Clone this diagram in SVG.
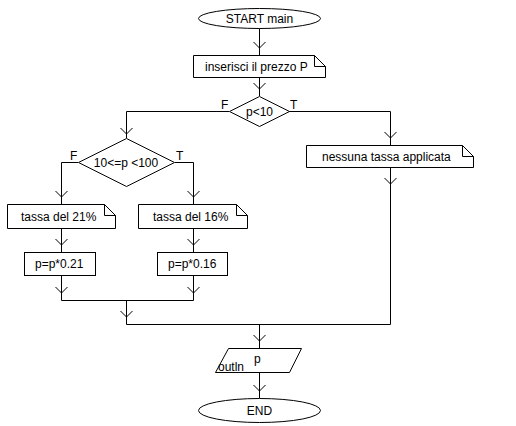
<svg xmlns="http://www.w3.org/2000/svg" width="516" height="426" viewBox="0 0 516 426">
<style>
.s{fill:#fff;stroke:#000;stroke-width:1}
.l{fill:none;stroke:#000;stroke-width:1}
text{font-family:"Liberation Sans",Arial,sans-serif;font-size:12px;fill:#000}
.c{text-anchor:middle}
</style>
<defs>
<path id="ah" d="M-6,-6 L0,0 L6,-6" fill="none" stroke="#000" stroke-width="1"/>
</defs>
<rect width="516" height="426" fill="#fff"/>
<g id="connectors">
<path class="l" d="M259.5,28 V55"/>
<path class="l" d="M259.5,77 V96"/>
<path class="l" d="M229,111.5 H126.5 V138"/>
<path class="l" d="M289,111.5 H390.5 V145"/>
<path class="l" d="M390.5,168 V324.5 H126.5"/>
<path class="l" d="M78,162.5 H61.5 V204"/>
<path class="l" d="M175,162.5 H193.5 V204"/>
<path class="l" d="M61.5,228 V252"/>
<path class="l" d="M193.5,228 V252"/>
<path class="l" d="M61.5,276 V300.5 H193.5 V276"/>
<path class="l" d="M126.5,300.5 V324.5"/>
<path class="l" d="M259.5,324.5 V348"/>
<path class="l" d="M259.5,372 V398"/>
<use href="#ah" x="259.5" y="48"/>
<use href="#ah" x="259.5" y="89"/>
<use href="#ah" x="126.5" y="134"/>
<use href="#ah" x="390.5" y="138"/>
<use href="#ah" x="390.5" y="184"/>
<use href="#ah" x="61.5" y="197"/>
<use href="#ah" x="193.5" y="197"/>
<use href="#ah" x="61.5" y="245"/>
<use href="#ah" x="193.5" y="245"/>
<use href="#ah" x="61.5" y="293"/>
<use href="#ah" x="193.5" y="293"/>
<use href="#ah" x="126.5" y="317"/>
<use href="#ah" x="259.5" y="341"/>
<use href="#ah" x="259.5" y="391"/>
</g>
<g id="start">
<ellipse class="s" cx="259.5" cy="18.5" rx="61" ry="10"/>
<text class="c" x="259.5" y="23">START main</text>
</g>
<g id="input">
<path class="s" d="M193.5,55.5 H314.5 L325.5,66.5 V77.5 H193.5 Z"/>
<path class="l" d="M314.5,55.5 V66.5 H325.5"/>
<text x="205" y="71">inserisci il prezzo P</text>
</g>
<g id="dec1">
<path class="s" d="M259.5,96.5 L289.5,111.5 L259.5,126.5 L229.5,111.5 Z"/>
<text class="c" x="259.5" y="116">p&lt;10</text>
<text x="221" y="109">F</text>
<text x="290" y="109">T</text>
</g>
<g id="nessuna">
<path class="s" d="M306.5,145.5 H462.5 L473.5,156.5 V167.5 H306.5 Z"/>
<path class="l" d="M462.5,145.5 V156.5 H473.5"/>
<text x="322" y="161">nessuna tassa applicata</text>
</g>
<g id="dec2">
<path class="s" d="M126.5,138.5 L174.5,162.5 L126.5,186.5 L78.5,162.5 Z"/>
<text class="c" x="126" y="167">10&lt;=p &lt;100</text>
<text x="70" y="160">F</text>
<text x="176" y="160">T</text>
</g>
<g id="tassa21">
<path class="s" d="M7.5,204.5 H104.5 L115.5,215.5 V228.5 H7.5 Z"/>
<path class="l" d="M104.5,204.5 V215.5 H115.5"/>
<text x="21" y="221">tassa del 21%</text>
</g>
<g id="tassa16">
<path class="s" d="M138.5,204.5 H236.5 L247.5,215.5 V228.5 H138.5 Z"/>
<path class="l" d="M236.5,204.5 V215.5 H247.5"/>
<text x="153" y="221">tassa del 16%</text>
</g>
<g id="calc21">
<rect class="s" x="24.5" y="252.5" width="71" height="23"/>
<text x="35" y="268">p=p*0.21</text>
</g>
<g id="calc16">
<rect class="s" x="157.5" y="252.5" width="70" height="23"/>
<text x="168" y="268">p=p*0.16</text>
</g>
<g id="output">
<path class="s" d="M228.5,348.5 H301.5 L289.5,372.5 H215.5 Z"/>
<text x="218" y="371">outln</text>
<text x="254" y="363">p</text>
</g>
<g id="end">
<ellipse class="s" cx="259.5" cy="410.5" rx="61" ry="12"/>
<text class="c" x="259.5" y="415">END</text>
</g>
</svg>
